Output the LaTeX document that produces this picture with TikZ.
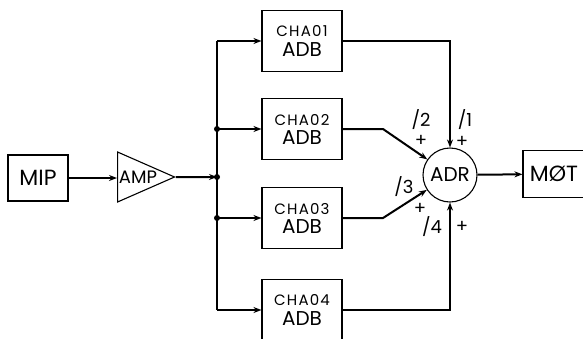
\documentclass[tikz,border=0pt]{standalone}
\usepackage{fontspec}
\setmainfont{Poppins}
\usetikzlibrary{
    arrows.meta,
    positioning,
    shapes.geometric,
    calc
}
\tikzset{
  block/.style  = {draw, line width=1.1pt, minimum width=80pt,
                   minimum height=61pt, align=center, inner sep=0pt},
  wire/.style   = {line width=2pt},
  arr/.style    = {-{Stealth[length=8pt, width=6pt]}, line width=2pt},
  dot/.style    = {circle, fill, inner sep=0pt, minimum size=6pt},
  sign/.style   = {font=\fontsize{18}{18}\selectfont, inner sep=1pt}
}
\newcommand{\chablock}[1]{{\fontsize{15}{15}\selectfont\addfontfeatures{LetterSpace=8}CHA#1}\\[4pt]{\fontsize{20}{20}\selectfont ADB}}

\begin{document}
\begin{tikzpicture}[x=1pt, y=-1pt]
  \useasboundingbox (0,0) rectangle (583,338);

  \node[block, minimum width=60pt, minimum height=46pt,
        font=\fontsize{22}{22}\selectfont] (mip) at (38,178) {MIP};
  \node[isosceles triangle, isosceles triangle stretches, draw,
        line width=1.1pt, minimum width=50pt, minimum height=57pt,
        inner sep=0pt, anchor=west,
        font=\fontsize{18}{18}\selectfont] (amp) at (117,177) {AMP};

  \node[block] (cha1) at (302,41)  {\chablock{01}};
  \node[block] (cha2) at (302,129) {\chablock{02}};
  \node[block] (cha3) at (302,218) {\chablock{03}};
  \node[block] (cha4) at (302,310) {\chablock{04}};

  \node[circle, draw, line width=1.1pt, minimum size=54pt, inner sep=0pt,
        font=\fontsize{20}{20}\selectfont] (adr) at (450,175) {ADR};
  \node[block, minimum width=62pt, minimum height=47pt,
        font=\fontsize{22}{22}\selectfont] (mot) at (554,174) {MØT};

  % bus
  \coordinate (bt) at (217,41);
  \coordinate (bb) at (217,310);
  \node[dot] (j2) at (217,129) {};
  \node[dot] (j3) at (217,177) {};
  \node[dot] (j4) at (217,218) {};

  \draw[arr] (mip) -- (amp.west |- mip);
  \draw[arr] (amp.apex) -- (j3.center);
  \draw[wire] (bt) -- (bb);
  \draw[arr] (bt) -- (cha1);
  \draw[arr] (j2.center) -- (cha2);
  \draw[arr] (j4.center) -- (cha3);
  \draw[arr] (bb) -- (cha4);

  % to the adder
  \coordinate (k2) at (383,129);
  \coordinate (k3) at (383,218);
  \draw[arr] (cha1) -| (adr);
  \draw[arr] (cha2) -- (k2) -- (adr);
  \draw[arr] (cha3) -- (k3) -- (adr);
  \draw[arr] (cha4) -| (adr);
  \draw[arr] (adr) -- (mot);

  \node[sign] (l1) at (465,120) {/1};
  \node[sign] (p1) at (462,142) {+};
  \node[sign] (l2) at (421,120) {/2};
  \node[sign] (p2) at (421,141) {+};
  \node[sign] (l3) at (404,187) {/3};
  \node[sign] (p3) at (420,209) {+};
  \node[sign] (l4) at (432,227) {/4};
  \node[sign] (p4) at (462,227) {+};
\end{tikzpicture}
\end{document}
